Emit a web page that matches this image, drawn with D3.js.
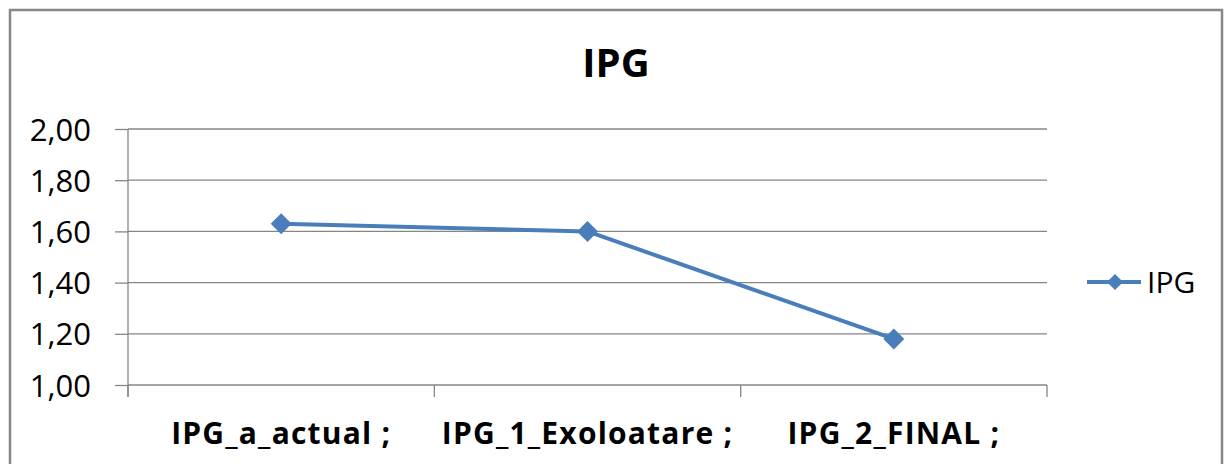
<!DOCTYPE html>
<html lang="ro">
<head>
    <meta charset="UTF-8">
    <title>IPG</title>
    <script src="https://d3js.org/d3.v7.min.js"></script>
    <style>
        body { margin: 0; background-color: #ffffff; }
        svg { display: block; font-family: "Open Sans", sans-serif; }
        svg text { font-family: "Open Sans", sans-serif; }
        .grid line { stroke: #868686; stroke-width: 1.3; }
        .axis path, .axis line { stroke: #868686; stroke-width: 1.3; }
        .series { fill: none; stroke: #4a7ebb; stroke-width: 4; stroke-linejoin: round; }
        .marker { fill: #4a7ebb; }
    </style>
</head>
<body>
    <div id="chart"></div>
    <script type="text/javascript">
        // chart data
        const categories = ["IPG_a_actual ;", "IPG_1_Exoloatare ;", "IPG_2_FINAL ;"];
        const values = [1.63, 1.60, 1.18];
        const yTicks = [1.00, 1.20, 1.40, 1.60, 1.80, 2.00];
        const seriesName = "IPG";
        const chartTitle = "IPG";

        const width = 1227, height = 464;
        const plot = {left: 128, right: 1047, top: 129, bottom: 385};

        const svg = d3.select("#chart").append("svg")
            .attr("width", width)
            .attr("height", height);

        // outer chart border
        svg.append("rect")
            .attr("x", 10).attr("y", 10)
            .attr("width", 1212).attr("height", 480)
            .attr("fill", "#ffffff")
            .attr("stroke", "#878787")
            .attr("stroke-width", 2.5);

        const x = d3.scaleBand().domain(categories).range([plot.left, plot.right]).padding(0);
        const y = d3.scaleLinear().domain([1, 2]).range([plot.bottom, plot.top]);
        const fmt = d => d.toFixed(2).replace(".", ",");

        // horizontal gridlines
        svg.append("g").attr("class", "grid")
            .selectAll("line")
            .data(yTicks)
            .join("line")
            .attr("x1", plot.left).attr("x2", plot.right)
            .attr("y1", d => y(d)).attr("y2", d => y(d));

        // y axis with outside ticks
        const yAxis = svg.append("g")
            .attr("class", "axis")
            .attr("transform", "translate(" + plot.left + ",0)")
            .call(d3.axisLeft(y).tickValues(yTicks).tickSize(13).tickSizeOuter(0).tickPadding(24).tickFormat(fmt));
        yAxis.attr("font-family", null).attr("font-size", null);
        yAxis.select(".domain").attr("d", "M0," + plot.top + "V" + (plot.bottom + 12));
        yAxis.selectAll("text")
            .attr("fill", "#000")
            .style("font-size", "31px")
            .attr("dy", "0.36em");

        // category axis: ticks at band edges, labels at centres
        const edges = categories.map(c => x(c)).concat([plot.right]);
        svg.append("g").attr("class", "axis")
            .selectAll("line")
            .data(edges)
            .join("line")
            .attr("x1", d => d).attr("x2", d => d)
            .attr("y1", plot.bottom).attr("y2", plot.bottom + 12);

        svg.append("g")
            .selectAll("text")
            .data(categories)
            .join("text")
            .attr("x", d => x(d) + x.bandwidth() / 2)
            .attr("y", 444)
            .attr("text-anchor", "middle")
            .style("font-size", "30px")
            .style("font-weight", "bold")
            .style("letter-spacing", "1.2px")
            .text(d => d);

        // series line
        const pts = categories.map((c, i) => ({c: c, v: values[i]}));
        const line = d3.line()
            .x(d => x(d.c) + x.bandwidth() / 2)
            .y(d => y(d.v));

        svg.append("path")
            .datum(pts)
            .attr("class", "series")
            .attr("d", line);

        const diamond = d3.symbol().type(d3.symbolSquare).size(220);
        svg.selectAll(".marker")
            .data(pts)
            .join("path")
            .attr("class", "marker")
            .attr("d", diamond)
            .attr("transform", d => "translate(" + (x(d.c) + x.bandwidth() / 2) + "," + y(d.v) + ") rotate(45)");

        // title
        svg.append("text")
            .attr("x", 616).attr("y", 77)
            .attr("text-anchor", "middle")
            .style("font-size", "40px")
            .style("font-weight", "bold")
            .text(chartTitle);

        // legend
        const legend = svg.append("g").attr("transform", "translate(1087,282)");
        legend.append("line")
            .attr("x1", 0).attr("x2", 54)
            .attr("y1", 0).attr("y2", 0)
            .attr("stroke", "#4a7ebb").attr("stroke-width", 4);
        legend.append("path")
            .attr("class", "marker")
            .attr("d", d3.symbol().type(d3.symbolSquare).size(130))
            .attr("transform", "translate(28,0) rotate(45)");
        legend.append("text")
            .attr("x", 60).attr("y", 11)
            .style("font-size", "30px")
            .text(seriesName);
    </script>
</body>
</html>
